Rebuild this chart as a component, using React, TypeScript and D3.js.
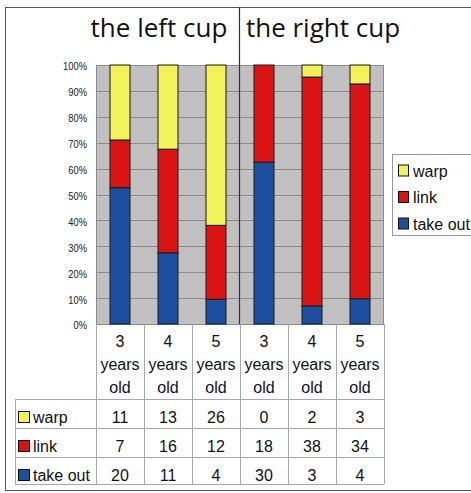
import React from "react";
import * as d3 from "d3";

const categories = ["3", "4", "5", "3", "4", "5"];
const seriesNames = ["warp", "link", "take out"];
const warp = [11, 13, 26, 0, 2, 3];
const link = [7, 16, 12, 18, 38, 34];
const takeOut = [20, 11, 4, 30, 3, 4];
const groupTitles = ["the left cup", "the right cup"];
const yTicks = [0, 0.1, 0.2, 0.3, 0.4, 0.5, 0.6, 0.7, 0.8, 0.9, 1.0];

const colors: Record<string, string> = {
  warp: "#f2f25a",
  link: "#d91414",
  "take out": "#1e4f9e",
};

const W = 471;
const H = 493;
const plot = { left: 96, right: 384, top: 65, bottom: 324 };

export default function App() {
  const x = d3
    .scaleBand<number>()
    .domain(d3.range(categories.length))
    .range([plot.left, plot.right])
    .paddingInner(0)
    .paddingOuter(0);
  const y = d3.scaleLinear().domain([0, 1]).range([plot.bottom, plot.top]);

  const rows = categories.map((_, i) => ({
    "take out": takeOut[i],
    link: link[i],
    warp: warp[i],
  }));
  const stack = d3
    .stack<any>()
    .keys(["take out", "link", "warp"])
    .offset(d3.stackOffsetExpand);
  const layers = stack(rows);

  const bw = x.bandwidth();
  const barW = 20;
  const headerBottom = 399;
  const rowLines = [399, 428, 457, 484];
  const tableLeft = 15;
  const tableSeries = [
    { name: "warp", vals: warp },
    { name: "link", vals: link },
    { name: "take out", vals: takeOut },
  ];
  const font = "'Liberation Sans', Arial, sans-serif";
  const gridColor = "#a8a8a8";

  return (
    <svg
      width={W}
      height={H}
      style={{ position: "absolute", left: 0, top: 0, background: "#fff" }}
    >
      {/* frame */}
      <rect x={5.5} y={7.5} width={470} height={483} fill="none" stroke="#555" strokeWidth={1} />

      {/* plot background and gridlines */}
      <rect x={plot.left} y={plot.top} width={plot.right - plot.left} height={plot.bottom - plot.top} fill="#c0c0c0" />
      {yTicks.map((t) => (
        <line
          key={t}
          x1={plot.left}
          x2={plot.right}
          y1={Math.round(y(t)) + 0.5}
          y2={Math.round(y(t)) + 0.5}
          stroke="#8c8c8c"
          strokeWidth={1}
        />
      ))}
      <line x1={plot.left + 0.5} x2={plot.left + 0.5} y1={plot.top} y2={plot.bottom} stroke="#8c8c8c" />
      <line x1={plot.right - 0.5} x2={plot.right - 0.5} y1={plot.top} y2={plot.bottom} stroke="#8c8c8c" />

      {/* y axis tick labels */}
      {yTicks.map((t) => (
        <text
          key={t}
          x={87}
          y={y(t) + 5.5}
          textAnchor="end"
          fontSize={11}
          fontFamily={font}
          fill="#222"
          transform={`translate(${87 * 0.15},0) scale(0.85,1)`}
        >
          {Math.round(t * 100)}%
        </text>
      ))}

      {/* stacked bars */}
      {layers.map((layer) =>
        layer.map((d, i) => {
          const h = y(d[0]) - y(d[1]);
          if (h <= 0) return null;
          return (
            <rect
              key={layer.key + i}
              x={(x(i) as number) + bw / 2 - barW / 2}
              y={y(d[1])}
              width={barW}
              height={h}
              fill={colors[layer.key]}
              stroke="#1a1a1a"
              strokeWidth={1}
            />
          );
        })
      )}

      {/* divider between the two cups */}
      <line x1={239.5} x2={239.5} y1={7} y2={plot.bottom} stroke="#333" strokeWidth={1.2} />

      {/* group titles */}
      {groupTitles.map((t, g) => (
        <text
          key={t}
          x={g === 0 ? 159 : 323}
          y={37}
          textAnchor="middle"
          fontSize={26}
          fontFamily="'Open Sans', sans-serif"
          fill="#111"
        >
          {t}
        </text>
      ))}

      {/* data table: column lines */}
      {d3.range(categories.length + 1).map((i) => {
        const xx = i === categories.length ? plot.right : (x(i) as number);
        return (
          <line
            key={"c" + i}
            x1={xx + 0.5}
            x2={xx + 0.5}
            y1={plot.bottom}
            y2={rowLines[rowLines.length - 1]}
            stroke={gridColor}
          />
        );
      })}
      <line x1={tableLeft + 0.5} x2={tableLeft + 0.5} y1={headerBottom} y2={rowLines[rowLines.length - 1]} stroke={gridColor} />
      {rowLines.map((ly) => (
        <line key={"r" + ly} x1={tableLeft} x2={plot.right} y1={ly + 0.5} y2={ly + 0.5} stroke={gridColor} />
      ))}

      {/* category labels */}
      {categories.map((c, i) => {
        const cx = (x(i) as number) + bw / 2;
        return (
          <g key={"cat" + i} fontSize={16} fontFamily={font} fill="#111" textAnchor="middle">
            <text x={cx} y={347}>{c}</text>
            <text x={cx} y={370}>years</text>
            <text x={cx} y={393}>old</text>
          </g>
        );
      })}

      {/* table rows */}
      {tableSeries.map((s, r) => {
        const top = rowLines[r];
        const base = top + 24;
        return (
          <g key={s.name}>
            <rect x={18.5} y={top + 12.5} width={11} height={11} fill={colors[s.name]} stroke="#111" />
            <text x={33} y={base} fontSize={16} fontFamily={font} fill="#111">
              {s.name}
            </text>
            {s.vals.map((v, i) => (
              <text
                key={i}
                x={(x(i) as number) + bw / 2}
                y={base}
                textAnchor="middle"
                fontSize={16}
                fontFamily={font}
                fill="#111"
              >
                {v}
              </text>
            ))}
          </g>
        );
      })}

      {/* legend */}
      <rect x={392.5} y={154.5} width={85} height={81} fill="#fff" stroke="#999" />
      {seriesNames.map((s, i) => {
        const base = 176.5 + i * 26.5;
        return (
          <g key={"lg" + s}>
            <rect x={398.5} y={base - 11.5} width={10} height={11} fill={colors[s]} stroke="#111" />
            <text x={413} y={base} fontSize={16} fontFamily={font} fill="#111">
              {s}
            </text>
          </g>
        );
      })}
    </svg>
  );
}
